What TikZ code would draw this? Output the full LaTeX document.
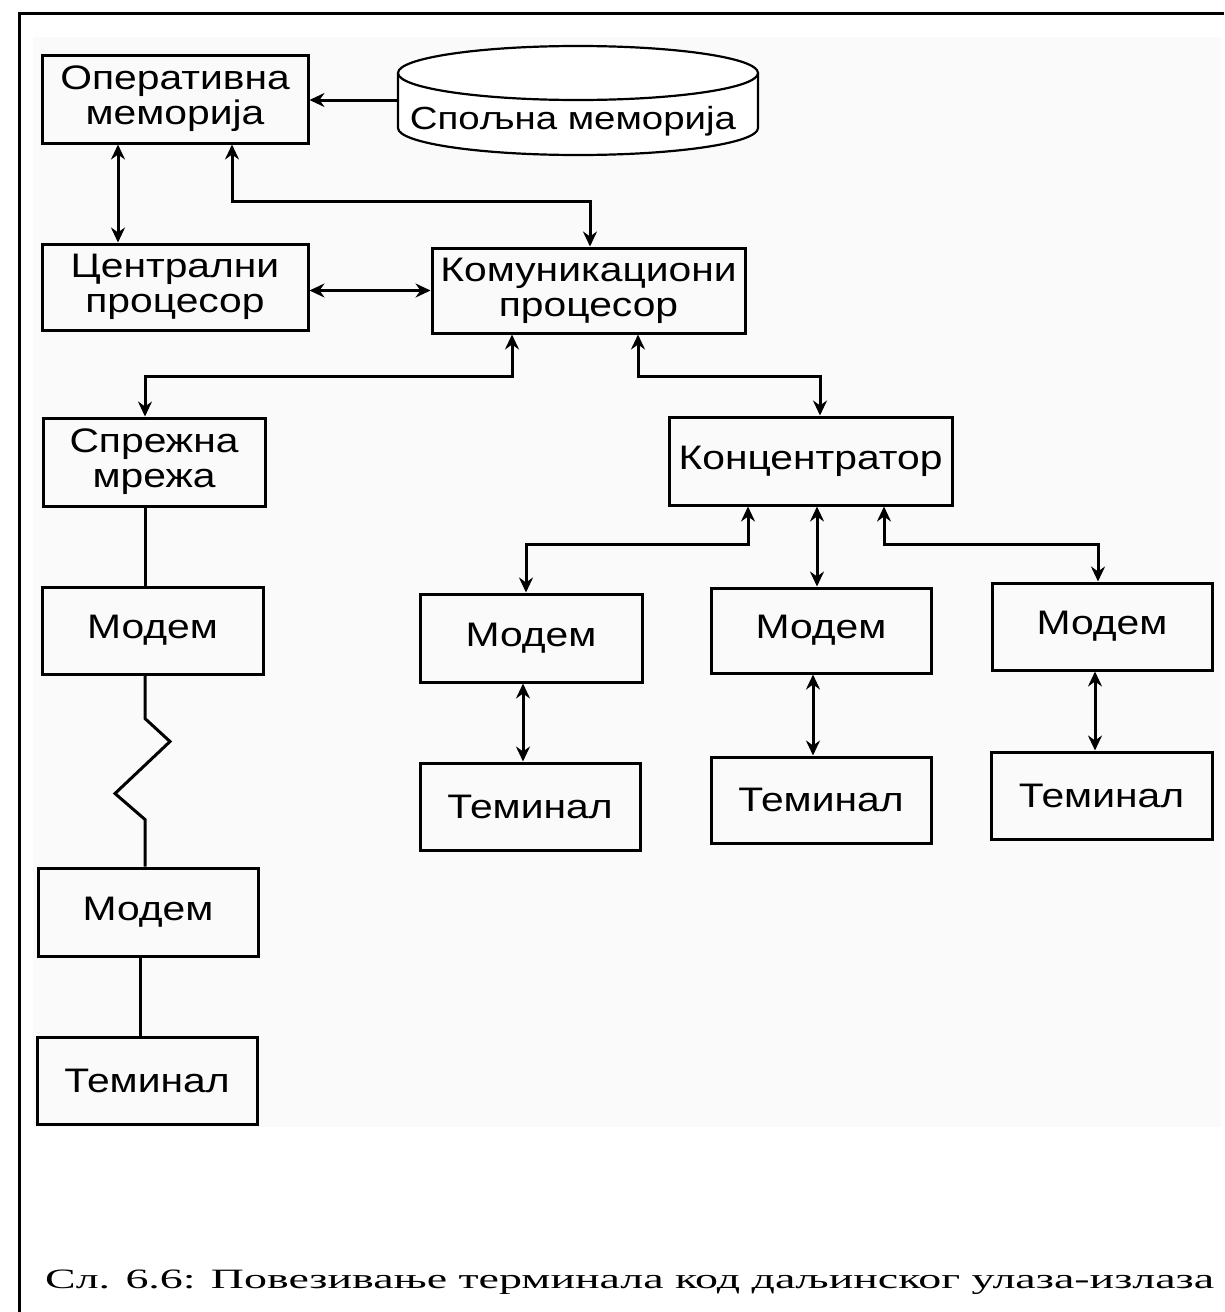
\documentclass[tikz,border=0pt]{standalone}
\usepackage{fontspec}
\newfontfamily\boxfont[FakeStretch=1.2]{Liberation Sans}
\newfontfamily\capfont[FakeStretch=1.64]{Liberation Serif}
\usetikzlibrary{arrows.meta}
\definecolor{bg}{RGB}{250,250,250}
\begin{document}
\begin{tikzpicture}[x=1pt,y=-1pt,
  box/.style={draw, line width=3pt, rectangle, inner sep=0pt, align=center,
    font=\boxfont\fontsize{34}{35}\selectfont},
  conn/.style={line width=3pt},
  tipone/.style={-{Stealth[length=15pt,width=14pt,inset=5pt]}},
  tiptwo/.style={{Stealth[length=15pt,width=14pt,inset=5pt]}-{Stealth[length=15pt,width=14pt,inset=5pt]}}
]
\useasboundingbox (0,0) rectangle (1224,1312);
\fill[bg] (33,37) rectangle (1221,1127);
\draw[line width=3pt] (19,1312) -- (19,13) -- (1224,13);

% boxes
\node[box, minimum width=266pt, minimum height=88pt] (opmem) at (175,99) {Оперативна\\меморија};
\node[box, minimum width=266pt, minimum height=86pt] (cpu) at (175,287) {Централни\\процесор};
\node[box, minimum width=313pt, minimum height=85pt] (komun) at (588.5,290.5) {Комуникациони\\процесор};
\node[box, minimum width=222pt, minimum height=88pt] (sprez) at (154,462) {Спрежна\\мрежа};
\node[box, minimum width=221pt, minimum height=87pt] (modemL1) at (152.5,630.5) {Модем};
\node[box, minimum width=220pt, minimum height=88pt] (modemL2) at (148,912) {Модем};
\node[box, minimum width=220pt, minimum height=87pt] (termL) at (147,1080.5) {Теминал};
\node[box, minimum width=283pt, minimum height=88pt] (konc) at (810.5,461) {Концентратор};
\node[box, minimum width=222pt, minimum height=88pt] (modemA) at (531,638) {Модем};
\node[box, minimum width=220pt, minimum height=85pt] (modemB) at (821,630.5) {Модем};
\node[box, minimum width=220pt, minimum height=87pt] (modemC) at (1102,626.5) {Модем};
\node[box, minimum width=220pt, minimum height=87pt] (termA) at (530,806.5) {Теминал};
\node[box, minimum width=220pt, minimum height=86pt] (termB) at (821,800) {Теминал};
\node[box, minimum width=221pt, minimum height=87pt] (termC) at (1101.5,795.5) {Теминал};

% cylinder
\node[minimum width=360pt, minimum height=110pt, inner sep=0pt] (cyl) at (578,100) {};
\draw[line width=2.2pt, fill=white] (398,73) -- (398,128) arc[start angle=180, end angle=0, x radius=180, y radius=27] -- (758,73);
\draw[line width=2.2pt, fill=white] (578,73) ellipse[x radius=180, y radius=27];
\node[font=\boxfont\fontsize{32}{34}\selectfont, inner sep=0pt] (cyltext) at (573,121) {Спољна меморија};

% connectors
\draw[conn, tipone] (cyl.west) -- (cyl.west -| opmem.east);
\draw[conn, tiptwo] ([xshift=-57pt]opmem.south) -- ([xshift=-57pt]opmem.south |- cpu.north);
\draw[conn, tiptwo] ([xshift=57pt]opmem.south) -- ++(0,57) -| ([xshift=1.5pt]komun.north);
\draw[conn, tiptwo] (cpu.east |- komun.west) -- (komun.west);
\draw[conn, tiptwo] ([xshift=-76.5pt]komun.south) -- ++(0,42) -| ([xshift=-9pt]sprez.north);
\draw[conn, tiptwo] ([xshift=49.5pt]komun.south) -- ++(0,42) -| ([xshift=9.5pt]konc.north);
\draw[conn] ([xshift=-9pt]sprez.south) -- ([xshift=-9pt]sprez.south |- modemL1.north);
\draw[conn] ([xshift=-7.5pt]modemL1.south) -- ++(0,43) -- ++(25,23) -- ++(-55,52) -- ++(30,26) coordinate (zz) -- (zz |- modemL2.north);
\draw[conn] ([xshift=-8pt]modemL2.south) -- ([xshift=-8pt]modemL2.south |- termL.north);
\draw[conn, tiptwo] ([xshift=-62.5pt]konc.south) -- ++(0,38) -| ([xshift=-5pt]modemA.north);
\draw[conn, tiptwo] ([xshift=6.5pt]konc.south) -- ([xshift=6.5pt]konc.south |- modemB.north);
\draw[conn, tiptwo] ([xshift=73.5pt]konc.south) -- ++(0,38) -| ([xshift=-4pt]modemC.north);
\draw[conn, tiptwo] ([xshift=-8pt]modemA.south) -- ([xshift=-8pt]modemA.south |- termA.north);
\draw[conn, tiptwo] ([xshift=-8pt]modemB.south) -- ([xshift=-8pt]modemB.south |- termB.north);
\draw[conn, tiptwo] ([xshift=-7pt]modemC.south) -- ([xshift=-7pt]modemC.south |- termC.north);

% caption
\node[anchor=base west, inner sep=0pt, font=\capfont\fontsize{28}{30}\selectfont] (cap) at (45,1288) {Сл. 6.6: Повезивање терминала код даљинског улаза-излаза};
\end{tikzpicture}
\end{document}
